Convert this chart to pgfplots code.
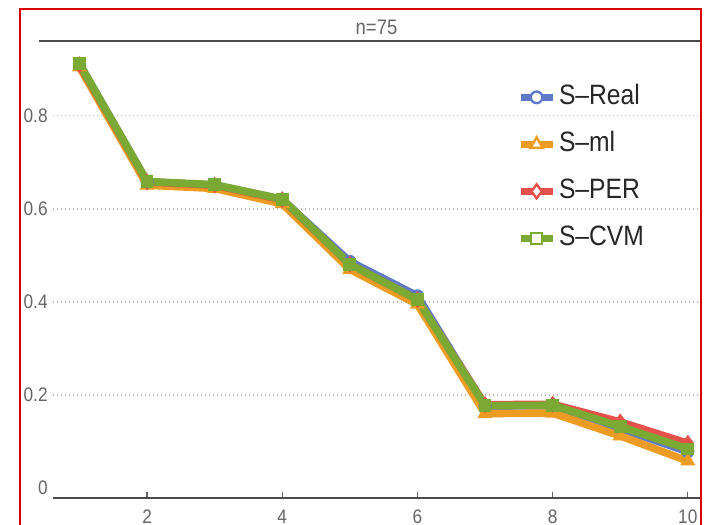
\documentclass[border=0pt]{standalone}
\usepackage{fontspec}
\setmainfont{Liberation Sans}[FakeStretch=0.88]
\usepackage{pgfplots}
\pgfplotsset{compat=1.18}

\definecolor{cReal}{rgb}{0.369,0.478,0.784}
\definecolor{cMl}{rgb}{0.925,0.612,0.133}
\definecolor{cPer}{rgb}{0.898,0.318,0.290}
\definecolor{cCvm}{rgb}{0.478,0.667,0.200}
\definecolor{labgray}{gray}{0.40}
\definecolor{axgray}{gray}{0.30}

% S statistic for n = 75, indices 1..10
\pgfplotstableread{
k  real   ml     per    cvm
1  0.912  0.905  0.910  0.912
2  0.658  0.651  0.658  0.659
3  0.651  0.644  0.651  0.652
4  0.620  0.611  0.620  0.621
5  0.487  0.470  0.481  0.481
6  0.413  0.395  0.405  0.405
7  0.176  0.160  0.179  0.177
8  0.177  0.161  0.180  0.178
9  0.128  0.112  0.142  0.132
10 0.078  0.058  0.096  0.084
}\stable

\begin{document}
\begin{tikzpicture}
\useasboundingbox (0,0) rectangle (354pt,-262.5pt);
\begin{axis}[
  scale only axis,
  width=323.5pt, height=228.5pt,
  at={(26.5pt,-249pt)}, anchor=south west,
  xmin=0.608, xmax=10.18,
  ymin=-0.0215, ymax=0.961,
  clip=false,
  axis x line=bottom, axis y line=left,
  axis line style={-},
  x axis line style={draw=axgray, line width=0.8pt},
  y axis line style={draw=none},
  xtick={2,4,6,8,10},
  tick align=inside,
  major tick length=3pt,
  xtick style={draw=labgray, line width=0.6pt},
  ytick style={draw=none},
  ymajorgrids,
  ytick={0.2,0.4,0.6,0.8},
  extra y ticks={0},
  extra y tick style={grid=none},
  major grid style={draw=gray!55, line width=0.6pt, dash pattern=on 0.6pt off 1.4pt},
  /pgf/number format/assume math mode=true,
  ticklabel style={font=\fontsize{9.8}{11}\selectfont, text=labgray},
  xticklabel style={anchor=base, yshift=-12.5pt},
  yticklabel style={anchor=east, inner sep=0pt, xshift=-2.5pt},
  title={n=75},
  every axis title/.style={at={(rel axis cs:0.5,1)}, anchor=base, yshift=3.3pt,
    font=\fontsize{10.5}{12}\selectfont, text=labgray},
  legend style={draw=none, fill=none, at={(axis cs:7.47,0.874)}, anchor=north west,
    font=\fontsize{14}{16}\selectfont, text=black!85,
    row sep=8pt, inner sep=0pt,
    nodes={inner sep=1.5pt, text height=10pt, text depth=2.5pt}},
  legend cell align=left,
  legend image code/.code={%
    \draw[mark repeat=2, mark phase=2, #1]
      plot coordinates {(0pt,0pt) (8pt,0pt) (16pt,0pt)};},
  every axis plot/.append style={line width=3.8pt},
]
\addplot[cReal, forget plot, mark=*, mark size=2.9pt,
  mark options={solid, line width=0.8pt, fill=cReal}] table[x=k, y=real] {\stable};
\addplot[cMl, forget plot, mark=triangle*, mark size=3.6pt,
  mark options={solid, line width=0.8pt, fill=cMl}] table[x=k, y=ml] {\stable};
\addplot[cPer, forget plot, mark=diamond*, mark size=3.6pt,
  mark options={solid, line width=0.8pt, fill=cPer}] table[x=k, y=per] {\stable};
\addplot[cCvm, forget plot, mark=square*, mark size=2.8pt,
  mark options={solid, line width=0.8pt, fill=cCvm}] table[x=k, y=cvm] {\stable};

\addlegendimage{cReal, line width=3.4pt, mark=*, mark size=2.9pt,
  mark options={line width=1.2pt, fill=white}}
\addlegendentry{S–Real}
\addlegendimage{cMl, line width=3.4pt, mark=triangle*, mark size=3.5pt,
  mark options={line width=1.2pt, fill=white}}
\addlegendentry{S–ml}
\addlegendimage{cPer, line width=3.4pt, mark=diamond*, mark size=3.5pt,
  mark options={line width=1.2pt, fill=white}}
\addlegendentry{S–PER}
\addlegendimage{cCvm, line width=3.4pt, mark=square*, mark size=2.7pt,
  mark options={line width=1.2pt, fill=white}}
\addlegendentry{S–CVM}
\end{axis}
% frame rule under the title and the outer border
\draw[axgray, line width=1pt] (19.5pt,-20.5pt) -- (350.5pt,-20.5pt);
\draw[red!85!black, line width=1.3pt] (10pt,-4.5pt) rectangle (350.5pt,-300pt);
\end{tikzpicture}
\end{document}
